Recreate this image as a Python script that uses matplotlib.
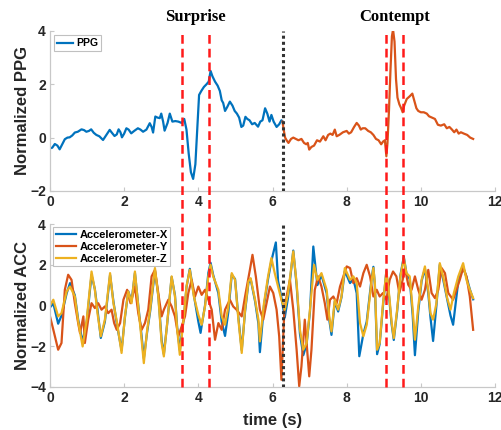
import matplotlib
matplotlib.use("Agg")
import matplotlib.pyplot as plt
from matplotlib.transforms import blended_transform_factory
import numpy as np

plt.rcParams['font.family'] = ['Liberation Sans', 'DejaVu Sans']

# ---------------- data ----------------
ppg_a = [(0.00,-0.40),(0.06,-0.38),(0.13,-0.24),(0.20,-0.30),(0.26,-0.44),(0.33,-0.25),(0.40,-0.06),
         (0.47,0.00),(0.53,0.01),(0.60,0.08),(0.67,0.19),(0.75,0.22),(0.85,0.31),(0.92,0.28),(0.98,0.22),
         (1.05,0.25),(1.11,0.31),(1.18,0.18),(1.25,0.10),(1.33,0.05),(1.43,-0.09),(1.52,0.10),(1.61,0.29),
         (1.67,0.18),(1.74,0.06),(1.80,0.12),(1.85,0.31),(1.90,0.20),(1.94,0.01),(2.00,0.15),(2.06,0.35),
         (2.12,0.30),(2.19,0.16),(2.27,0.25),(2.37,0.35),(2.44,0.30),(2.51,0.22),(2.60,0.30),(2.69,0.54),
         (2.74,0.40),(2.78,0.19),(2.84,0.79),(2.90,0.75),(2.96,0.73),(3.00,0.90),(3.05,0.60),(3.09,0.26),
         (3.17,0.55),(3.23,0.90),(3.30,0.60),(3.38,0.62),(3.46,0.60),(3.55,0.55),(3.62,0.70),(3.68,0.30),
         (3.74,-0.60),(3.80,-1.30),(3.86,-1.55),(3.92,-1.00),(3.97,0.30),(4.02,1.60),(4.08,1.75),(4.15,1.90),
         (4.22,2.00),(4.28,2.10),(4.33,2.50),(4.38,2.30),(4.45,2.10),(4.52,1.95),(4.58,1.75),(4.63,1.40),
         (4.67,1.30),(4.72,1.00),(4.78,1.15),(4.85,1.35),(4.92,1.20),(4.98,1.00),(5.04,0.90),(5.10,0.75),
         (5.16,0.40),(5.21,0.45),(5.27,0.78),(5.32,0.70),(5.38,0.65),(5.45,0.50),(5.52,0.55),(5.61,0.41),
         (5.67,0.60),(5.73,0.65),(5.80,1.10),(5.86,0.90),(5.92,0.60),(5.97,0.85),(6.03,0.60),(6.11,0.40),
         (6.18,0.50),(6.24,0.65),(6.27,0.60)]

ppg_b = [(6.27,0.60),(6.30,0.30),(6.34,0.00),(6.38,-0.10),(6.43,-0.20),(6.50,-0.05),(6.56,0.00),
         (6.63,-0.05),(6.70,-0.10),(6.78,-0.05),(6.85,-0.20),(6.91,-0.25),(6.95,-0.20),(6.99,-0.45),
         (7.05,-0.35),(7.12,-0.30),(7.20,-0.10),(7.28,-0.15),(7.37,0.05),(7.43,-0.10),(7.50,0.10),
         (7.56,0.15),(7.62,0.10),(7.68,0.30),(7.73,0.05),(7.80,0.10),(7.90,0.20),(8.00,0.25),(8.06,0.15),
         (8.12,0.20),(8.20,0.40),(8.27,0.55),(8.33,0.45),(8.38,0.30),(8.43,0.35),(8.50,0.35),(8.58,0.25),
         (8.65,0.20),(8.72,0.10),(8.79,-0.05),(8.86,-0.10),(8.93,-0.25),(8.98,-0.15),(9.03,-0.10),
         (9.07,-0.70),(9.10,-0.20),(9.14,1.00),(9.18,2.50),(9.22,3.80),(9.25,4.05),(9.29,3.60),(9.33,2.20),
         (9.37,1.50),(9.42,1.25),(9.47,1.10),(9.51,0.95),(9.55,1.20),(9.62,1.45),(9.70,1.55),(9.77,1.65),
         (9.82,1.40),(9.88,1.10),(9.93,1.00),(10.00,0.95),(10.08,0.95),(10.16,0.90),(10.22,0.80),
         (10.30,0.75),(10.38,0.70),(10.46,0.48),(10.54,0.45),(10.63,0.50),(10.70,0.35),(10.77,0.40),
         (10.84,0.30),(10.90,0.20),(10.96,0.30),(11.02,0.15),(11.08,0.20),(11.16,0.15),(11.25,0.10),
         (11.33,0.00),(11.41,-0.05)]

acc_x = [(0.00,-0.10),(0.09,0.10),(0.22,-0.90),(0.31,-0.50),(0.45,0.60),(0.54,1.10),(0.67,0.50),(0.76,-0.70),
         (0.88,-1.80),(0.99,-0.80),(1.12,1.50),(1.21,0.80),(1.28,-0.20),(1.37,-1.60),(1.48,-0.80),(1.62,1.50),
         (1.71,0.20),(1.81,-1.00),(1.93,-2.20),(2.02,-0.60),(2.11,0.70),(2.20,0.20),(2.29,1.60),(2.38,0.00),
         (2.47,-1.50),(2.53,-2.60),(2.62,-1.30),(2.70,-0.30),(2.83,1.70),(2.92,0.50),(3.01,-1.70),(3.07,-2.40),
         (3.16,-0.90),(3.28,1.40),(3.37,0.50),(3.43,-1.10),(3.50,-2.20),(3.61,-0.60),(3.68,0.90),(3.77,1.80),
         (3.88,0.50),(4.00,-0.80),(4.06,-1.35),(4.09,-1.00),(4.18,0.00),(4.27,1.60),(4.33,2.10),(4.40,1.50),
         (4.54,0.60),(4.63,-0.80),(4.72,-1.50),(4.81,-0.30),(4.90,1.50),(4.99,1.30),(5.08,-0.60),(5.17,-2.20),
         (5.26,-0.30),(5.35,1.10),(5.41,1.30),(5.53,0.20),(5.62,-0.90),(5.66,-2.30),(5.77,0.00),(5.88,1.30),
         (5.97,2.20),(6.09,3.10),(6.15,1.20),(6.24,0.40),(6.33,-0.60),(6.42,0.40),(6.56,2.70),(6.65,1.00),
         (6.74,-1.40),(6.83,-2.45),(6.92,-1.90),(7.01,-0.30),(7.10,2.90),(7.21,1.00),(7.32,1.50),(7.46,0.60),
         (7.53,-0.70),(7.59,-1.45),(7.68,0.20),(7.77,-0.30),(7.86,0.40),(7.95,1.70),(8.09,1.10),(8.18,1.30),
         (8.27,0.60),(8.34,-2.50),(8.45,-1.40),(8.54,-0.80),(8.67,1.30),(8.72,1.90),(8.76,1.00),(8.82,-2.40),
         (8.89,-1.90),(8.98,0.00),(9.07,1.70),(9.15,0.30),(9.21,-0.90),(9.27,-1.70),(9.36,-0.30),(9.45,1.50),
         (9.54,2.40),(9.61,1.60),(9.70,1.30),(9.78,-0.50),(9.84,-2.45),(9.93,-0.30),(10.02,1.20),(10.11,1.80),
         (10.20,0.60),(10.26,-0.60),(10.33,-1.75),(10.42,0.00),(10.51,2.00),(10.60,1.30),(10.71,0.30),
         (10.80,-0.50),(10.87,-0.95),(11.01,1.20),(11.14,1.90),(11.23,1.40),(11.32,0.80),(11.41,0.30)]

acc_y = [(0.00,-0.54),(0.09,-1.20),(0.22,-2.18),(0.31,-1.85),(0.40,0.77),(0.49,1.51),(0.58,1.26),(0.67,0.11),
         (0.76,-0.87),(0.81,-1.36),(0.90,-0.54),(0.94,-1.85),(1.03,-0.70),(1.12,0.11),(1.21,-0.13),(1.30,0.11),
         (1.39,-0.21),(1.48,-0.05),(1.57,-0.38),(1.66,-0.21),(1.73,-0.87),(1.80,-1.20),(1.89,-0.87),(1.98,0.28),
         (2.08,0.77),(2.17,0.11),(2.29,0.93),(2.38,-0.38),(2.47,-1.20),(2.56,-0.87),(2.65,-0.21),(2.74,1.43),
         (2.83,1.75),(2.92,0.61),(3.01,-0.54),(3.07,-0.21),(3.19,0.28),(3.28,-0.05),(3.37,-0.54),(3.46,-1.52),
         (3.55,-1.03),(3.64,-0.54),(3.73,0.61),(3.82,1.26),(3.91,0.44),(4.00,0.93),(4.09,0.52),(4.18,0.77),
         (4.27,0.28),(4.36,-0.21),(4.45,-1.69),(4.54,-0.87),(4.63,-1.20),(4.72,-0.21),(4.85,0.28),(4.94,-0.05),
         (5.03,-0.21),(5.17,-0.54),(5.26,0.44),(5.39,1.75),(5.46,2.49),(5.55,1.43),(5.66,-0.21),(5.75,-0.70),
         (5.84,0.11),(5.93,0.93),(6.02,0.61),(6.11,-0.21),(6.18,-1.52),(6.24,-3.66),(6.32,-0.21),(6.38,0.44),
         (6.47,1.26),(6.56,-0.21),(6.65,-2.18),(6.72,-3.98),(6.78,-3.00),(6.87,-0.70),(6.92,-1.85),(6.99,-3.49),
         (7.05,-2.18),(7.14,0.77),(7.23,1.43),(7.32,0.93),(7.41,0.11),(7.48,-0.70),(7.55,0.28),(7.64,0.44),
         (7.73,0.11),(7.82,0.93),(7.91,1.43),(8.00,1.92),(8.09,1.84),(8.18,1.10),(8.27,1.34),(8.36,0.93),
         (8.45,1.59),(8.54,2.00),(8.63,1.43),(8.72,0.44),(8.81,0.77),(8.89,0.44),(8.98,0.61),(9.07,0.28),
         (9.16,1.26),(9.25,1.67),(9.34,1.43),(9.42,0.61),(9.51,1.26),(9.57,1.84),(9.66,1.02),(9.75,0.77),
         (9.84,1.43),(9.93,0.77),(10.02,0.28),(10.11,0.77),(10.20,1.75),(10.29,0.61),(10.38,0.36),(10.47,0.77),
         (10.56,1.84),(10.65,1.59),(10.74,0.61),(10.87,0.28),(10.96,0.77),(11.05,1.26),(11.14,1.84),(11.23,1.43),
         (11.32,0.44),(11.41,-1.20)]

acc_z = [(0.00,0.00),(0.09,0.28),(0.22,-0.54),(0.31,-0.38),(0.45,0.69),(0.54,0.93),(0.67,0.44),(0.76,-0.79),
         (0.88,-2.02),(0.99,-0.70),(1.12,1.67),(1.21,0.77),(1.28,-0.38),(1.37,-1.52),(1.48,-0.70),(1.62,1.59),
         (1.71,0.11),(1.81,-0.87),(1.93,-2.34),(2.02,-0.54),(2.11,0.69),(2.20,0.11),(2.29,1.67),(2.38,-0.05),
         (2.47,-1.69),(2.53,-2.84),(2.62,-1.20),(2.70,-0.21),(2.83,1.84),(2.92,0.44),(3.01,-1.85),(3.07,-2.51),
         (3.16,-0.87),(3.28,1.43),(3.37,0.44),(3.43,-1.20),(3.50,-2.43),(3.61,-0.54),(3.68,0.93),(3.77,1.75),
         (3.88,0.44),(4.00,-0.46),(4.09,-0.95),(4.18,-0.05),(4.27,1.43),(4.33,2.00),(4.40,1.43),(4.54,0.77),
         (4.63,-0.54),(4.72,-0.95),(4.81,-0.05),(4.90,1.59),(4.99,1.26),(5.08,-0.70),(5.17,-2.34),(5.26,-0.21),
         (5.35,1.18),(5.41,1.34),(5.53,0.28),(5.62,-0.70),(5.66,-1.77),(5.77,0.11),(5.88,1.43),(5.97,2.33),
         (6.06,1.59),(6.15,0.93),(6.24,0.28),(6.33,-0.21),(6.42,0.61),(6.56,2.66),(6.65,1.10),(6.74,-1.20),
         (6.83,-2.18),(6.92,-1.85),(7.01,-0.21),(7.12,2.00),(7.21,1.26),(7.32,1.59),(7.46,0.77),(7.53,-0.54),
         (7.59,-1.28),(7.68,0.28),(7.77,-0.21),(7.86,0.44),(7.95,1.84),(8.09,1.26),(8.18,1.43),(8.27,1.10),
         (8.36,-0.87),(8.45,-1.52),(8.54,-0.95),(8.67,1.18),(8.72,1.84),(8.76,1.10),(8.82,-2.18),(8.89,-1.85),
         (8.98,0.11),(9.07,1.67),(9.15,0.44),(9.21,-0.79),(9.27,-1.61),(9.36,-0.21),(9.45,1.43),(9.54,2.33),
         (9.61,1.59),(9.70,1.43),(9.78,-0.21),(9.84,-1.69),(9.93,-0.05),(10.02,1.26),(10.11,1.92),(10.20,0.77),
         (10.26,-0.38),(10.33,-0.70),(10.42,0.11),(10.51,2.08),(10.60,1.43),(10.71,0.36),(10.80,-0.21),
         (10.89,0.61),(11.01,1.43),(11.14,2.08),(11.23,1.26),(11.32,0.77),(11.41,0.36)]

emotion_labels = ["Surprise", "Contempt"]
emotion_bounds = [(3.57, 4.29), (9.05, 9.52)]
split_time = 6.27

x_ticks = [0, 2, 4, 6, 8, 10, 12]
ppg_ticks = [-2, 0, 2, 4]
acc_ticks = [-4, -2, 0, 2, 4]

C_BLUE, C_ORANGE, C_YELLOW = '#0072BD', '#D95319', '#EDB120'

# ---------------- figure ----------------
fig = plt.figure(figsize=(5.02, 4.30), dpi=100)
ax1 = fig.add_axes([0.0996, 0.556, 0.8865, 0.372])
ax2 = fig.add_axes([0.0996, 0.1007, 0.8865, 0.378])

def style(ax):
    for s in ['top', 'right']:
        ax.spines[s].set_visible(False)
    for s in ['left', 'bottom']:
        ax.spines[s].set_color('#c8c8c8')
        ax.spines[s].set_linewidth(0.9)
    ax.tick_params(direction='in', length=3, color='#c8c8c8', labelsize=10,
                   labelcolor='#262626', pad=3)
    for lab in ax.get_xticklabels() + ax.get_yticklabels():
        lab.set_fontweight('bold')
    ax.set_xlim(0, 12)
    ax.set_xticks(x_ticks)

def unz(p):
    return [a for a, b in p], [b for a, b in p]

t, v = unz(ppg_a)
ax1.plot(t, v, color=C_BLUE, lw=1.6, label='PPG')
t, v = unz(ppg_b)
ax1.plot(t, v, color=C_ORANGE, lw=1.6)
ax1.set_ylim(-2, 4)
ax1.set_yticks(ppg_ticks)
style(ax1)
ax1.set_ylabel('Normalized PPG', fontsize=12, fontweight='bold', color='#262626', labelpad=0)
leg1 = ax1.legend(loc='upper left', prop={'weight': 'bold', 'size': 7.5},
                  handlelength=1.5, handletextpad=0.3, borderpad=0.3, fancybox=False,
                  edgecolor='#c0c0c0', framealpha=1, borderaxespad=0.4)
leg1.get_frame().set_linewidth(0.8)

for lab, (a, b) in zip(emotion_labels, emotion_bounds):
    ax1.text((a + b) / 2, 1.035, lab, transform=blended_transform_factory(ax1.transData, ax1.transAxes),
             ha='center', va='bottom', fontsize=12, fontweight='bold', family='Liberation Serif')

t, v = unz(acc_x)
ax2.plot(t, v, color=C_BLUE, lw=1.6, label='Accelerometer-X')
t, v = unz(acc_y)
ax2.plot(t, v, color=C_ORANGE, lw=1.6, label='Accelerometer-Y')
t, v = unz(acc_z)
ax2.plot(t, v, color=C_YELLOW, lw=1.6, label='Accelerometer-Z')
ax2.set_ylim(-4, 4)
ax2.set_yticks(acc_ticks)
style(ax2)
ax2.set_ylabel('Normalized ACC', fontsize=12, fontweight='bold', color='#262626', labelpad=0)
ax2.set_xlabel('time (s)', fontsize=12, fontweight='bold', color='#262626', labelpad=6)
leg2 = ax2.legend(loc='upper left', prop={'weight': 'bold', 'size': 8},
                  handlelength=1.8, handletextpad=0.3, borderpad=0.25, labelspacing=0.15,
                  fancybox=False, edgecolor='#c0c0c0', framealpha=1, borderaxespad=0.3)
leg2.get_frame().set_linewidth(0.8)

# black dotted split lines
for ax in (ax1, ax2):
    ax.axvline(split_time, color='#333333', lw=2.2, ls=(0, (1, 1)), zorder=5)

# red dashed lines spanning both panels
y_top = 0.928
y_bot = 0.1007
trans = blended_transform_factory(ax2.transData, fig.transFigure)
for a, b in emotion_bounds:
    for xv in (a, b):
        ax2.plot([xv, xv], [y_bot, y_top], transform=trans, color='#ff1a1a', lw=1.8,
                 ls=(0, (3.5, 2)), clip_on=False, zorder=6)

fig.savefig('out.png', dpi=100)
